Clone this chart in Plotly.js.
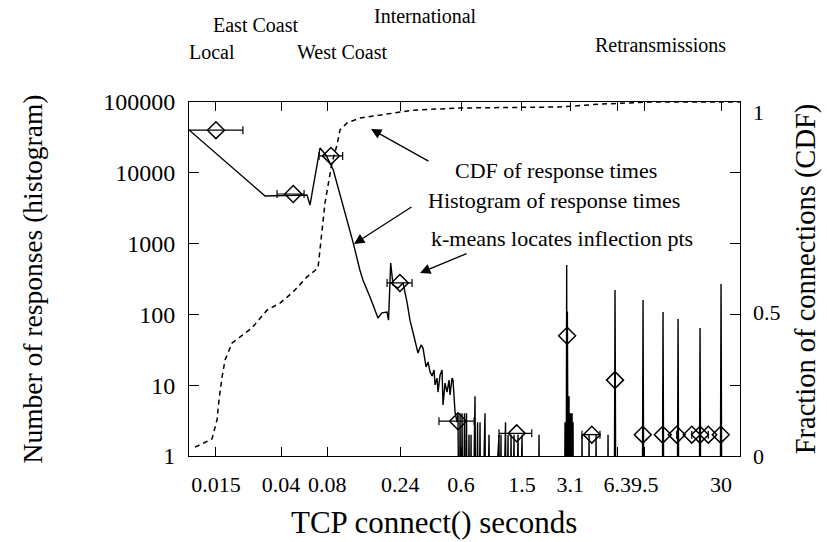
<!DOCTYPE html>
<html><head><meta charset="utf-8">
<script src="https://cdn.plot.ly/plotly-3.0.1.min.js"></script>
<style>html,body{margin:0;padding:0;background:#fff;} #chart{width:827px;height:542px;}</style>
</head><body><div id="chart"></div>
<script>
// ---- data ----
const histT = [0.01,0.0314,0.059,0.0618,0.0718,0.079,0.0877,0.1186,0.1308,0.137,0.1524,0.1718,0.1825,0.1968,0.2014,0.208,0.2155,0.2325,0.2504,0.2658,0.278,0.291,
  0.3138,0.3283,0.3384,0.354,0.3649,0.3761,0.3875,0.3994,0.4054,0.4178,0.4242,0.4372,0.4505,0.4572,0.4713,0.4857,0.5005,0.5081,0.5236,0.5315,0.5477,0.5645,
  0.573,0.582,0.591,0.600,0.609,0.618,0.632,0.642,0.651,0.661,0.676,0.687,0.697,0.708,0.740,0.751,0.769,0.780,0.798,0.810,0.860,0.873,0.914,0.927,
  1.062,1.078,1.094,1.111,1.171,1.189,1.216,1.235,1.273,1.291,1.331,1.351,1.414,1.435,1.502,1.524,1.910,1.939,1.968,
  2.825,2.867,2.911,2.94,2.955,2.97,2.985,3.0,3.02,3.046,3.07,3.092,3.115,3.139,3.16,3.187,3.21,3.235,3.26,
  3.649,3.704,3.761,4.054,4.116,4.178,4.504,4.573,4.642,5.396,5.478,5.561,5.995,6.04,6.085,6.178,
  9.139,9.276,9.416,12.35,12.53,12.72,15.47,15.71,15.94,21.54,21.87,22.2,29.55,30.0,30.46,40];
const histN = [40300,4700,4860,3510,22400,17500,10960,1009,424,306,176,89,105,108,83,532,260,236,278,150,83,54.6,
  28.5,37,33.5,18.1,21.3,15.4,13.5,16.4,10.1,12.6,8.0,13.9,16.4,5.25,10.7,8.0,11.8,7.3,12.6,11.8,4.2,3.0,
  4,0,4,0,4,0,4,0,4,0,2,0,2,0,7,0,3,0,3,0,4,0,2,0,
  2,0,2,0,3,0,2,0,2,0,2,0,2,0,2,0,0,2,0,
  0,3,0,500,0,110,0,60,0,7,0,4,0,4,0,4,0,3,0,
  0,2,0,0,2,0,0,2,0,0,2,0,0,27,221,0,
  0,160,0,0,108,0,0,86,0,0,64,0,0,269,0,0];

const cdfT = [0.01094,0.01235,0.01413,0.01524,0.0157,0.01644,0.0172,0.0191,0.02155,0.0258,0.03234,0.03934,0.04784,0.05905,0.06968,
  0.074,0.07743,0.0822,0.086,0.0928,0.097,0.1078,0.1311,0.1968,0.291,0.59,2.66,4.86,10.3,40.8];
const cdfF = [0.025,0.037,0.048,0.102,0.158,0.223,0.271,0.319,0.336,0.362,0.412,0.432,0.463,0.506,0.531,
  0.638,0.715,0.780,0.828,0.879,0.921,0.941,0.955,0.966,0.977,0.983,0.986,0.994,1.0,1.0];

const kmT  = [0.015,0.048,0.0847,0.239,0.573,1.386,2.96,4.29,6.08,9.24,12.48,15.40,19.31,21.87,24.77,29.87];
const kmN  = [40000,5020,17300,278,3.1,2.09,50,2.0,11.8,2,2,2,2,2,2,2];
const kmLo = [0.0095,0.0376,0.0708,0.197,0.43,1.062,2.96,3.70,6.08,9.24,12.48,15.40,19.31,21.87,24.77,29.87];
const kmHi = [0.0225,0.0565,0.101,0.287,0.73,1.738,2.96,4.85,6.08,9.24,12.48,15.40,19.31,21.87,24.77,29.87];

const xTickVals = [0.015,0.04,0.08,0.24,0.6,1.5,3.1,6.3,9.5,30];
const xTickText = ['0.015','0.04','0.08','0.24','0.6','1.5','3.1','6.3','9.5','30'];
const yTickVals = [1,10,100,1000,10000,100000];
const yTickText = ['1','10','100','1000','10000','100000'];
const cdfTickVals = [0,0.407,0.972];
const cdfTickText = ['0','0.5','1'];

const xTitle = 'TCP connect() seconds';
const regionLabels = ['Local','East Coast','West Coast','International','Retransmissions'];
const calloutLabels = ['CDF of response times','Histogram of response times','k-means locates inflection pts'];

// ---- layout helpers ----
const L = 189, T = 102, W = 551, H = 354;
const pxX = p => (p - L) / W;
const pxY = p => (T + H - p) / H;
const FONT = 'Liberation Serif, Times New Roman, serif';
const ZERO_FLOOR = 0.01; // empty bins drawn below the axis

const traces = [
  {x: histT, y: histN.map(v => v > 0 ? v : ZERO_FLOOR), type: 'scatter', mode: 'lines',
   line: {color: 'black', width: 1.4}, hoverinfo: 'skip', showlegend: false},
  {x: cdfT, y: cdfF, yaxis: 'y2', type: 'scatter', mode: 'lines',
   line: {color: 'black', width: 1.5, dash: '5px,4px'}, showlegend: false},
  {x: kmT, y: kmN, type: 'scatter', mode: 'markers',
   marker: {symbol: 'diamond-open', size: 13, color: 'black', line: {width: 1.5, color: 'black'}},
   error_x: {type: 'data', symmetric: false,
     array: kmT.map((v, i) => kmHi[i] - v), arrayminus: kmT.map((v, i) => v - kmLo[i]),
     color: 'black', thickness: 1.2, width: 4},
   showlegend: false}
];

const regionPos = [[212,52],[255,25],[342,52],[425,16],[660,45]];
const calloutPos = [[556,170],[554,200],[562,238]];
const arrows = [[371,129,430,162],[354,244,413,206],[420,273,468,253]];

const annotations = [];
annotations.push({text: xTitle, xref: 'paper', yref: 'paper', x: pxX(434), y: pxY(522),
  xanchor: 'center', yanchor: 'middle', showarrow: false, font: {family: FONT, size: 31, color: 'black'}});
regionLabels.forEach((t, i) => annotations.push({text: t, xref: 'paper', yref: 'paper',
  x: pxX(regionPos[i][0]), y: pxY(regionPos[i][1]), xanchor: 'center', yanchor: 'middle',
  showarrow: false, font: {family: FONT, size: 20, color: 'black'}}));
calloutLabels.forEach((t, i) => annotations.push({text: t, xref: 'paper', yref: 'paper',
  x: pxX(calloutPos[i][0]), y: pxY(calloutPos[i][1]), xanchor: 'center', yanchor: 'middle',
  showarrow: false, font: {family: FONT, size: 22, color: 'black'}}));
arrows.forEach(a => annotations.push({text: '', xref: 'paper', yref: 'paper',
  x: pxX(a[0]), y: pxY(a[1]), ax: a[2] - a[0], ay: a[3] - a[1],
  showarrow: true, arrowhead: 2, arrowsize: 1.6, arrowwidth: 1.3, arrowcolor: 'black'}));

const layout = {
  width: 827, height: 542,
  margin: {l: L, r: 827 - L - W, t: T, b: 542 - T - H},
  paper_bgcolor: 'white', plot_bgcolor: 'white',
  font: {family: FONT, color: 'black'},
  showlegend: false,
  xaxis: {type: 'log', range: [-2, 1.601], tickvals: xTickVals, ticktext: xTickText,
    tickangle: 0, ticks: 'inside', ticklen: 9, tickcolor: 'black', tickwidth: 1,
    showline: true, linecolor: 'black', linewidth: 1, mirror: 'ticks', showgrid: false, zeroline: false,
    tickfont: {family: FONT, size: 22}, ticklabelstandoff: 9},
  yaxis: {type: 'log', range: [0, 5], tickvals: yTickVals, ticktext: yTickText,
    ticks: 'inside', ticklen: 10, tickcolor: 'black', tickwidth: 1,
    showline: true, linecolor: 'black', linewidth: 1, mirror: 'ticks', showgrid: false, zeroline: false,
    tickfont: {family: FONT, size: 24}, ticklabelstandoff: 8,
    title: {text: 'Number of responses (histogram)', font: {family: FONT, size: 27.5}, standoff: 52}},
  yaxis2: {overlaying: 'y', side: 'right', range: [0, 1], tickvals: cdfTickVals, ticktext: cdfTickText,
    ticks: '', showline: false, showgrid: false, zeroline: false,
    tickfont: {family: FONT, size: 22}, ticklabelstandoff: 12,
    title: {text: 'Fraction of connections (CDF)', font: {family: FONT, size: 28.5}, standoff: 15}},
  annotations: annotations
};

Plotly.newPlot('chart', traces, layout, {staticPlot: true, displayModeBar: false});
</script>
</body></html>
